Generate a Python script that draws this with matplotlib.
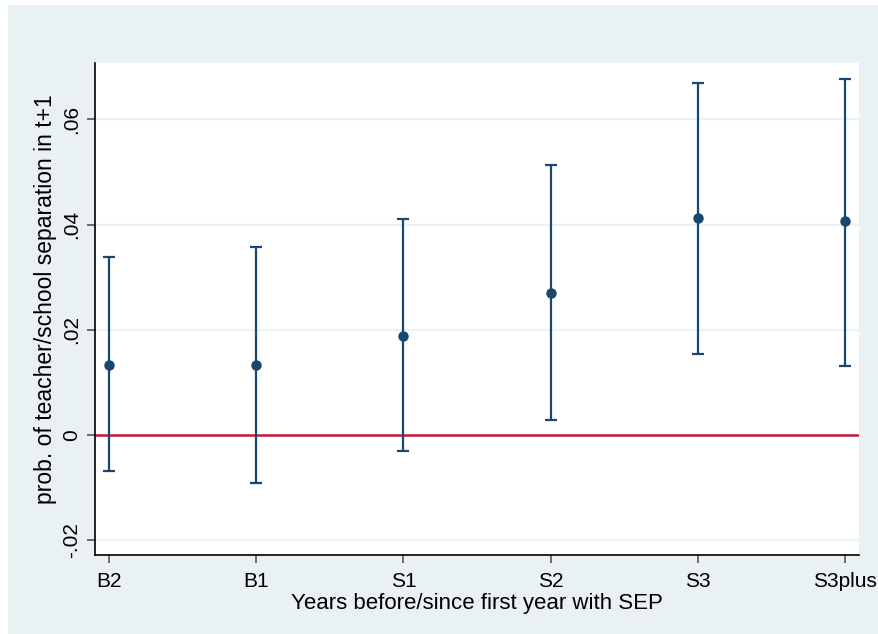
import matplotlib
matplotlib.use("Agg")
import matplotlib.pyplot as plt
from matplotlib.patches import Rectangle
import numpy as np

categories = ["B2", "B1", "S1", "S2", "S3", "S3plus"]
estimates = [0.0134, 0.0133, 0.0188, 0.0270, 0.0413, 0.0406]
ci_low = [-0.0068, -0.0092, -0.0031, 0.0028, 0.0154, 0.0132]
ci_high = [0.0338, 0.0358, 0.0410, 0.0514, 0.0669, 0.0677]
ytick_vals = [-0.02, 0.0, 0.02, 0.04, 0.06]
ytick_labels = ["-.02", "0", ".02", ".04", ".06"]

plt.rcParams["font.family"] = ["Liberation Sans", "DejaVu Sans"]

W, H = 879, 634
fig = plt.figure(figsize=(W / 100, H / 100), dpi=100, facecolor="white")
bg = "#EAF1F3"
fig.patches.append(Rectangle((8 / W, 0), 1 - 8 / W, 1 - 5 / H, transform=fig.transFigure,
                             facecolor=bg, edgecolor="none", zorder=-10))

ax = fig.add_axes([95 / W, (H - 555) / H, (859 - 95) / W, (555 - 63) / H])
ax.set_facecolor("white")

x = np.arange(1, len(categories) + 1)
est = np.array(estimates)
lo = np.array(ci_low)
hi = np.array(ci_high)

for yv in ytick_vals:
    ax.axhline(yv, color="#EAF2F3", lw=1.6, zorder=0)
ax.axhline(0, color="#C8153C", lw=1.8, zorder=1)

navy = "#1A476F"
ax.errorbar(x, est, yerr=[est - lo, hi - est], fmt="o", color=navy, ecolor=navy,
            elinewidth=1.6, capsize=4, capthick=1.6, markersize=6.5, zorder=3)

ax.set_xlim(0.905, 6.095)
ax.set_ylim(-0.0228, 0.0707)
ax.set_xticks(x)
ax.set_xticklabels(categories, fontsize=15)
ax.set_yticks(ytick_vals)
ax.set_yticklabels(ytick_labels, fontsize=15, rotation=90, va="center")

for s in ["top", "right"]:
    ax.spines[s].set_visible(False)
for s in ["left", "bottom"]:
    ax.spines[s].set_color("black")
    ax.spines[s].set_linewidth(1.2)

ax.tick_params(axis="both", direction="out", length=6, width=1.2, color="#555555", pad=3)
ax.tick_params(axis="x", pad=6)
ax.tick_params(axis="y", pad=4)

ax.set_xlabel("Years before/since first year with SEP", fontsize=16)
ax.xaxis.label.set_va("baseline")
ax.xaxis.set_label_coords(0.5, (555 - 609) / 492)
ax.set_ylabel("prob. of teacher/school separation in t+1", fontsize=16.5)
ax.yaxis.label.set_va("baseline")
ax.yaxis.set_label_coords((52 - 95) / 764, (555 - 299) / 492)

fig.savefig("out.png", dpi=100, facecolor=fig.get_facecolor())
